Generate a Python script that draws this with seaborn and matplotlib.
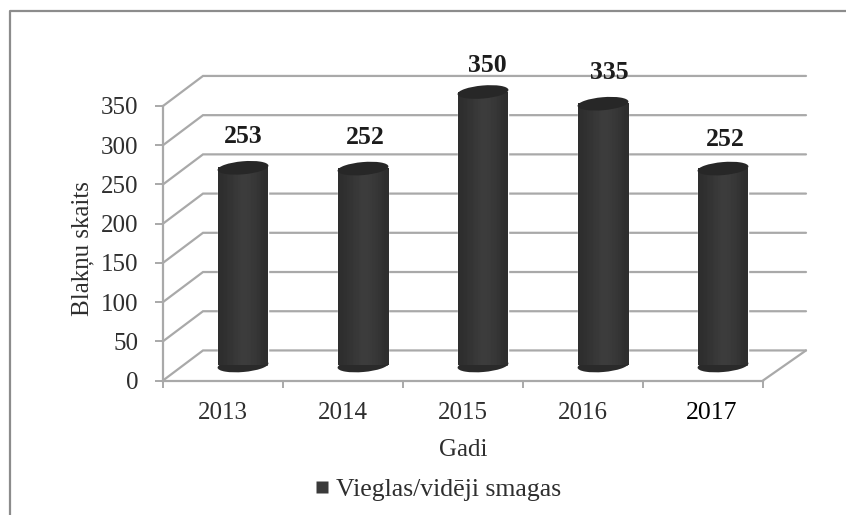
import numpy as np
import pandas as pd
import matplotlib
matplotlib.use('Agg')
import matplotlib.pyplot as plt
import seaborn as sns
from matplotlib.lines import Line2D
from matplotlib.patches import Ellipse
from matplotlib.transforms import Affine2D, ScaledTranslation

years = ['2013', '2014', '2015', '2016', '2017']
values = [253, 252, 350, 335, 252]
y_ticks = [0, 50, 100, 150, 200, 250, 300, 350]
series_name = 'Vieglas/vidēji smagas'

W, H = 846, 515
GRID = '#a9a9a9'
TEXT = '#2e2e2e'

# hand placed value labels, pixels from bar top
label_dx = [0, 2, 4, 6, 2]
label_dy = [31, 31, 26, 31, 29]

sns.set_theme(style='white')
plt.rcParams['font.family'] = ['Liberation Serif', 'DejaVu Serif']

df = pd.DataFrame({'year': years, 'value': values})

fig = plt.figure(figsize=(W / 100, H / 100), dpi=100, facecolor='white')


def px_axes(left, right, top, bottom, **kw):
    return fig.add_axes([left / W, 1 - bottom / H, (right - left) / W, (bottom - top) / H], **kw)


# page frame, only left and top like in the scan
frame = fig.add_axes([0, 0, 1, 1], zorder=0)
frame.set_xlim(0, W)
frame.set_ylim(H, 0)
frame.axis('off')
frame.plot([10, 10, W], [H, 11, 11], color='#8c8c8c', lw=1.6)

# front plane has the axes, the bars sit half way into the depth
ax = px_axes(163, 763, 106, 380.5, zorder=1, facecolor='none')
ax_bars = px_axes(183, 783, 92, 365.5, zorder=2, facecolor='none')

sns.barplot(data=df, x='year', y='value', ax=ax, alpha=0)
ax.set_ylim(0, 350)
ax.set_xlim(-0.5, 4.5)

DX, DY = 40 / 120, 30 * 350 / 274
RIGHT = 4.5 + 43 / 120
for v in y_ticks:
    ax.plot([-0.5, -0.5 + DX, RIGHT], [v, v + DY, v + DY], color=GRID, lw=1.6,
            clip_on=False, zorder=1, solid_joinstyle='miter')
ax.plot([4.5, RIGHT], [0, DY], color=GRID, lw=1.6, clip_on=False)

sns.despine(ax=ax, top=True, right=True)
for s in ['left', 'bottom']:
    ax.spines[s].set_color(GRID)
    ax.spines[s].set_linewidth(1.6)
ax.set_yticks(y_ticks)
ax.set_xticks(np.arange(-0.5, 5), minor=True)
ax.tick_params(axis='x', which='major', length=0, labelsize=18, labelcolor=TEXT, pad=15.5)
ax.tick_params(axis='x', which='minor', length=5, color=GRID, width=1.4, bottom=True)
ax.tick_params(axis='y', length=6, color=GRID, width=1.4, labelsize=18, labelcolor=TEXT, pad=11.6, left=True)
ax.set_xlabel('Gadi', fontsize=18, color=TEXT, labelpad=11)
ax.set_ylabel('Blakņu skaits', fontsize=18, color=TEXT, labelpad=5)
ax.yaxis.label.set_y(0.5 - 5 / 274)

# the 2017 label is darker and sits a bit to the right in the original
last = ax.get_xticklabels()[-1]
last.set_color('black')
last.set_fontsize(18.5)
last.set_transform(last.get_transform() + ScaledTranslation(9 / 100, 0, fig.dpi_scale_trans))

# cylinders
sns.barplot(data=df, x='year', y='value', ax=ax_bars, color='#2f2f2f', width=50 / 120, saturation=1)
ax_bars.set_ylim(0, 350)
ax_bars.set_xlim(-0.5, 4.5)
ax_bars.axis('off')

shade = np.array([[0.18, 0.20, 0.22, 0.24, 0.23, 0.21, 0.18]])


def cap(cx, v, color, z):
    # tilted ellipse, sized in pixels so the tilt stays round
    x_px, y_px = ax_bars.transData.transform((cx, v))
    tr = Affine2D().rotate_deg(5).translate(x_px, y_px)
    ax_bars.add_patch(Ellipse((0, 0), 51, 13, facecolor=color, edgecolor='none',
                              transform=tr, clip_on=False, zorder=z))


for bar, v, dx, dy in zip(list(ax_bars.patches), values, label_dx, label_dy):
    x0, w = bar.get_x(), bar.get_width()
    cx = x0 + w / 2
    cap(cx, 0, '#2a2a2a', 2)
    ax_bars.imshow(shade, extent=(x0, x0 + w, 0, v), aspect='auto', cmap='gray',
                   vmin=0, vmax=1, interpolation='bilinear', zorder=3)
    cap(cx, v, '#272727', 4)
    ax_bars.annotate(str(v), (cx, v), xytext=(dx, dy), textcoords='offset pixels',
                     ha='center', va='center', fontsize=18.5, fontweight='bold', color='#1c1c1c',
                     annotation_clip=False, zorder=5)
ax_bars.set_xlim(-0.5, 4.5)
ax_bars.set_ylim(0, 350)

handle = Line2D([], [], linestyle='none', marker='s', markersize=8.6, markerfacecolor='#3a3a3a',
                markeredgecolor='none', label=series_name)
leg = fig.legend(handles=[handle], loc='center', bbox_to_anchor=(438.5 / W, 1 - 489.5 / H), frameon=False,
                 fontsize=18.5, labelcolor=TEXT, handlelength=0.47, handletextpad=0.3)

fig.savefig('out.png', dpi=100)
